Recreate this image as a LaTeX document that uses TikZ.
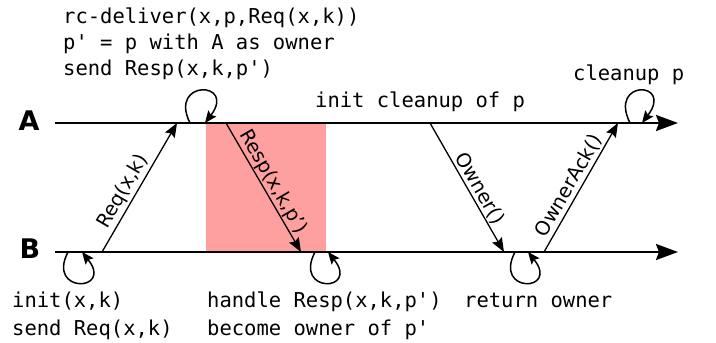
\documentclass[tikz,border=0pt]{standalone}
\usepackage{fontspec}
\setmainfont{DejaVu Sans}
\setmonofont{DejaVu Sans Mono}
\usetikzlibrary{arrows.meta}
\definecolor{respred}{RGB}{255,160,160}
\begin{document}
\begin{tikzpicture}[x=1pt,y=-1pt,
  timeline/.style={line width=2.2pt,-{Stealth[length=22pt,width=16pt,inset=3pt]}},
  msg/.style={line width=1.3pt,-{Stealth[length=14pt,width=11pt,inset=2pt]}},
  selfloop/.style={line width=1.5pt,-{Stealth[length=12pt,width=10pt,inset=2pt]}},
  code/.style={font=\ttfamily\fontsize{20.5}{26}\selectfont, anchor=base west, inner sep=0pt},
  proc/.style={font=\bfseries\fontsize{27}{30}\selectfont, inner sep=0pt},
  lbl/.style={font=\fontsize{19.5}{22}\selectfont, sloped, above, inner sep=2pt},
  zone/.style={fill=respred, draw=none}]
\useasboundingbox (0,0) rectangle (716,343);
% shaded region
\coordinate (z0) at (206,123);
\coordinate (z1) at (326,252);
\path[zone] (z0) rectangle (z1);
% process labels
\node[proc] (pa) at (29,121) {A};
\node[proc] (pb) at (30,249) {B};
% timelines
\coordinate (a0) at (55,123);
\coordinate (a1) at (678,123);
\coordinate (b0) at (55,252);
\coordinate (b1) at (678,252);
\draw[timeline] (a0) -- (a1);
\draw[timeline] (b0) -- (b1);
% message endpoints
\coordinate (reqB) at (102,252);
\coordinate (reqA) at (177,123);
\coordinate (respA) at (226,123);
\coordinate (respB) at (301,252);
\coordinate (ownA) at (430,123);
\coordinate (ownB) at (504,252);
\coordinate (ackB) at (544,252);
\coordinate (ackA) at (618,123);
\draw[msg] (reqB) -- node[lbl, pos=0.42] (lreq) {Req(x,k)} (reqA);
\draw[msg] (respA) -- node[lbl, pos=0.5, inner sep=1pt] (lresp) {Resp(x,k,p')} (respB);
\draw[msg] (ownA) -- node[lbl, pos=0.55, inner sep=1pt] (lown) {Owner()} (ownB);
\draw[msg] (ackB) -- node[lbl, pos=0.47] (lack) {OwnerAck()} (ackA);
% self loops on A
\coordinate (la1s) at (190,123);
\coordinate (la1e) at (205,123);
\coordinate (la2s) at (630,123);
\coordinate (la2e) at (642,123);
\draw[selfloop] (la1s) .. controls +(-22,-44) and +(32,-42) .. (la1e);
\draw[selfloop] (la2s) .. controls +(-22,-44) and +(32,-42) .. (la2e);
% self loops on B
\coordinate (lb1s) at (68,252);
\coordinate (lb1e) at (82,252);
\coordinate (lb2s) at (315,252);
\coordinate (lb2e) at (328,252);
\coordinate (lb3s) at (515,252);
\coordinate (lb3e) at (528,252);
\draw[selfloop] (lb1s) .. controls +(-22,42) and +(32,40) .. (lb1e);
\draw[selfloop] (lb2s) .. controls +(-22,42) and +(32,40) .. (lb2e);
\draw[selfloop] (lb3s) .. controls +(-22,42) and +(32,40) .. (lb3e);
% texts
\node[code] (t1) at (63,23) {rc-deliver(x,p,Req(x,k))};
\node[code] (t2) at (63,49) {p' = p with A as owner};
\node[code] (t3) at (63,75) {send Resp(x,k,p')};
\node[code] (t4) at (315,107) {init cleanup of p};
\node[code] (t5) at (573,80) {cleanup p};
\node[code] (t6) at (12,307) {init(x,k)};
\node[code] (t7) at (12,335) {send Req(x,k)};
\node[code] (t8) at (207,307) {handle Resp(x,k,p')};
\node[code] (t9) at (207,335) {become owner of p'};
\node[code] (t10) at (464,307) {return owner};
\end{tikzpicture}
\end{document}
